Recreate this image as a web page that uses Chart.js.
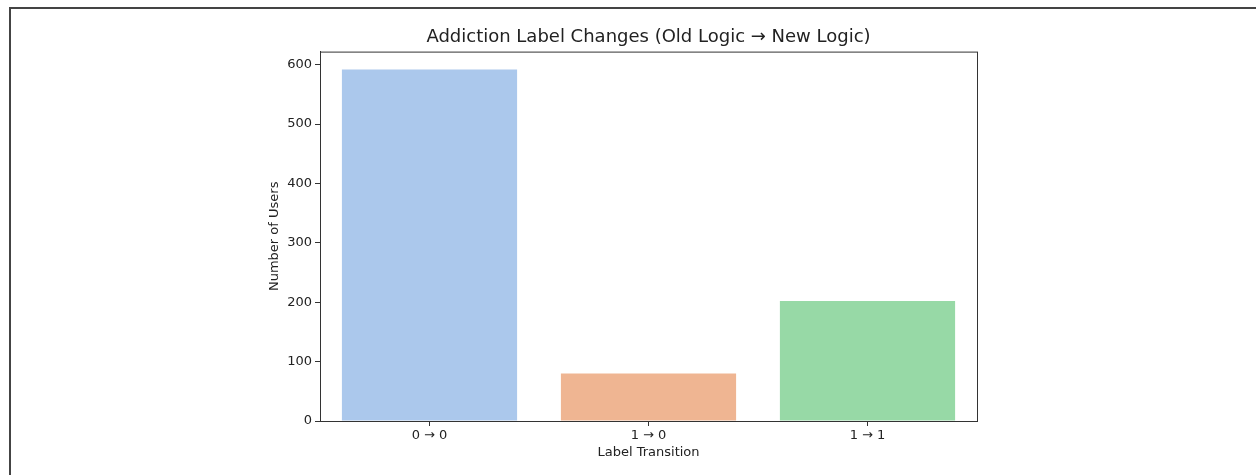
<!DOCTYPE html>
<html>
<head>
<meta charset="utf-8">
<script src="https://cdn.jsdelivr.net/npm/chart.js@4/dist/chart.umd.min.js"></script>
<style>
  html, body { margin: 0; padding: 0; background: #fff; }
  #wrap { position: relative; width: 1256px; height: 475px; overflow: hidden; }
  #frame { position: absolute; left: 9px; top: 7px; right: 0; bottom: 0;
           border-left: 2px solid #444; border-top: 2px solid #444; pointer-events: none; }
  canvas { position: absolute; left: 0; top: 0; }
</style>
</head>
<body>
<div id="wrap">
  <canvas id="chart" width="1256" height="475"></canvas>
  <div id="frame"></div>
</div>
<script>
// values
const transitions = ['0 \u2192 0', '1 \u2192 0', '1 \u2192 1'];
const userCounts = [592, 80, 202];
const barColors = ['#abc8ec', '#efb592', '#97d9a6'];
const yTicks = [0, 100, 200, 300, 400, 500, 600];

const FONT = "'DejaVu Sans', sans-serif";
const INK = '#222';

// matplotlib style box around the plot area
const spines = {
  id: 'spines',
  afterDatasetsDraw(chart) {
    const { ctx, chartArea: a } = chart;
    ctx.save();
    ctx.strokeStyle = '#333';
    ctx.lineWidth = 1;
    ctx.strokeRect(a.left + 0.5, a.top + 0.5, a.right - a.left, a.bottom - a.top);
    ctx.restore();
  }
};

new Chart(document.getElementById('chart'), {
  type: 'bar',
  data: {
    labels: transitions,
    datasets: [{
      data: userCounts,
      backgroundColor: barColors,
      borderWidth: 0,
      barPercentage: 0.8,
      categoryPercentage: 1.0
    }]
  },
  options: {
    responsive: false,
    animation: false,
    layout: { padding: { left: 260, right: 279, top: 20, bottom: 11 } },
    plugins: {
      legend: { display: false },
      tooltip: { enabled: false },
      title: {
        display: true,
        fullSize: false,
        text: 'Addiction Label Changes (Old Logic \u2192 New Logic)',
        color: INK,
        font: { family: FONT, size: 18, weight: 'normal' },
        padding: { top: 7, bottom: 3 }
      }
    },
    scales: {
      x: {
        afterFit(scale) { scale.height = 43; },
        grid: {
          display: true,
          offset: false,
          drawOnChartArea: false,
          tickLength: 5,
          tickColor: '#333'
        },
        border: { display: true, color: '#333', width: 1 },
        ticks: {
          color: INK,
          padding: 2,
          font: { family: FONT, size: 13 }
        },
        title: {
          display: true,
          text: 'Label Transition',
          color: INK,
          font: { family: FONT, size: 13 },
          padding: { top: 4, bottom: 4 }
        }
      },
      y: {
        min: 0,
        max: 622,
        afterFit(scale) { scale.width = 60; },
        afterBuildTicks(scale) { scale.ticks = yTicks.map(v => ({ value: v })); },
        grid: {
          display: true,
          drawOnChartArea: false,
          tickLength: 5,
          tickColor: '#333'
        },
        border: { display: true, color: '#333', width: 1 },
        ticks: {
          color: INK,
          padding: 3,
          font: { family: FONT, size: 13 }
        },
        title: {
          display: true,
          text: 'Number of Users',
          color: INK,
          font: { family: FONT, size: 13 },
          padding: { top: 7, bottom: 7 }
        }
      }
    }
  },
  plugins: [spines]
});
</script>
</body>
</html>
